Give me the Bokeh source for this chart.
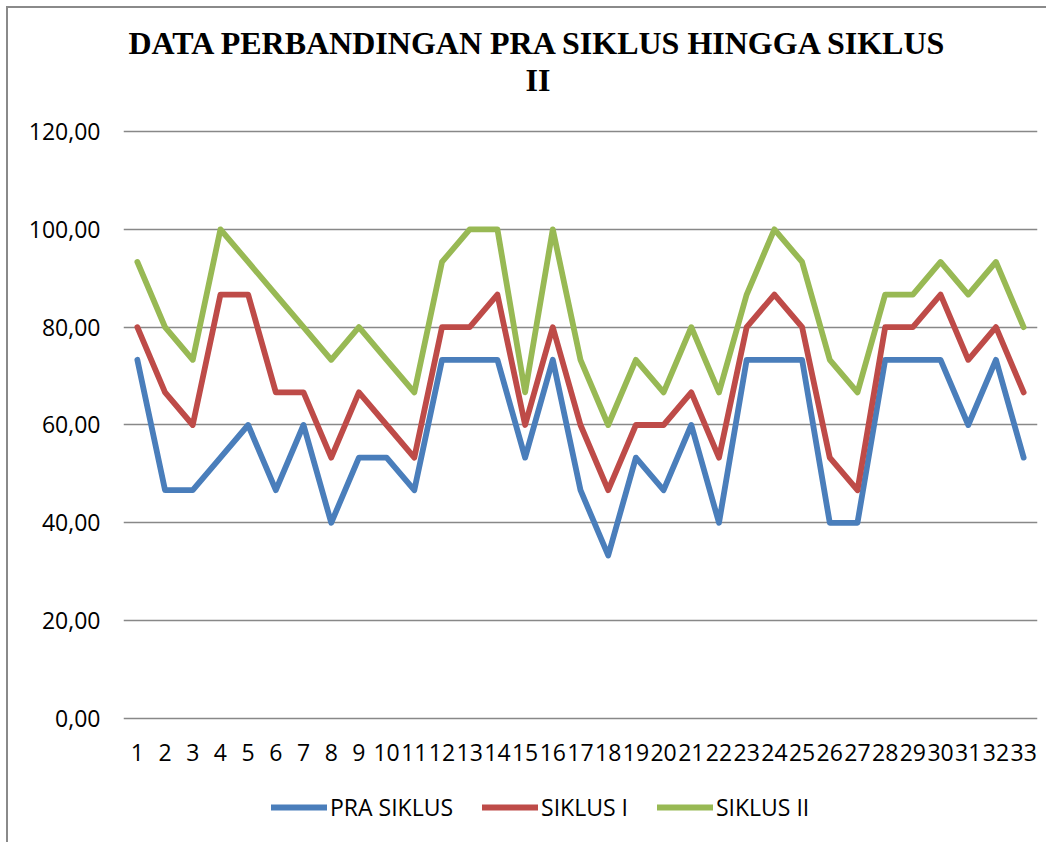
from bokeh.plotting import figure
from bokeh.models import Range1d, FixedTicker, Title, Legend, LegendItem, ColumnDataSource
from bokeh.core.properties import value
from bokeh.embed import file_html
from bokeh.resources import INLINE

categories = [str(i) for i in range(1, 34)]
pra_siklus = [73.33, 46.67, 46.67, 53.33, 60.00, 46.67, 60.00, 40.00, 53.33, 53.33, 46.67,
              73.33, 73.33, 73.33, 53.33, 73.33, 46.67, 33.33, 53.33, 46.67, 60.00, 40.00,
              73.33, 73.33, 73.33, 40.00, 40.00, 73.33, 73.33, 73.33, 60.00, 73.33, 53.33]
siklus_1 = [80.00, 66.67, 60.00, 86.67, 86.67, 66.67, 66.67, 53.33, 66.67, 60.00, 53.33,
            80.00, 80.00, 86.67, 60.00, 80.00, 60.00, 46.67, 60.00, 60.00, 66.67, 53.33,
            80.00, 86.67, 80.00, 53.33, 46.67, 80.00, 80.00, 86.67, 73.33, 80.00, 66.67]
siklus_2 = [93.33, 80.00, 73.33, 100.00, 93.33, 86.67, 80.00, 73.33, 80.00, 73.33, 66.67,
            93.33, 100.00, 100.00, 66.67, 100.00, 73.33, 60.00, 73.33, 66.67, 80.00, 66.67,
            86.67, 100.00, 93.33, 73.33, 66.67, 86.67, 86.67, 93.33, 86.67, 93.33, 80.00]
y_ticks = [0, 20, 40, 60, 80, 100, 120]
y_tick_labels = ["0,00", "20,00", "40,00", "60,00", "80,00", "100,00", "120,00"]
series_names = ["PRA SIKLUS", "SIKLUS I", "SIKLUS II"]
series_colors = ["#4A7EBB", "#BE4B48", "#98B954"]
title_lines = ["DATA PERBANDINGAN PRA SIKLUS HINGGA SIKLUS", "II"]

xs = list(range(1, len(categories) + 1))

# the frame reaches down to the canvas bottom so that the category labels and
# the legend can be drawn inside it (below the 0 gridline)
p = figure(width=1040, height=836, output_backend="svg", toolbar_location=None,
           x_range=Range1d(0.5, len(categories) + 0.5), y_range=Range1d(-25.76, 120.41),
           x_axis_location=None,
           min_border_left=115, min_border_right=11, min_border_top=121, min_border_bottom=0)
p.styles = {"border-left": "2px solid #8a8a8a", "border-top": "2px solid #8a8a8a",
            "margin-left": "6px", "margin-top": "6px"}
p.outline_line_color = None
p.background_fill_color = "white"
p.border_fill_color = "white"
p.title = None

# y axis
p.yaxis.ticker = FixedTicker(ticks=y_ticks)
p.yaxis.major_label_overrides = {t: l for t, l in zip(y_ticks, y_tick_labels)}
p.yaxis.axis_line_color = None
p.yaxis.major_tick_line_color = None
p.yaxis.minor_tick_line_color = None
p.yaxis.major_label_text_font = "Open Sans"
p.yaxis.major_label_text_font_size = "23px"
p.yaxis.major_label_text_color = "black"
p.yaxis.major_label_standoff = 17

p.xgrid.grid_line_color = None
p.ygrid.ticker = FixedTicker(ticks=y_ticks)
p.ygrid.grid_line_color = "#888888"
p.ygrid.grid_line_width = 1.7

# category (x) labels under the 0 line
cat_src = ColumnDataSource(dict(x=xs, y=[-6.95] * len(xs), t=categories))
p.text(x="x", y="y", text="t", source=cat_src, text_align="center", text_baseline="middle",
       text_font=value("Open Sans"), text_font_size="23px", text_color="black")

renderers = []
for vals, color in zip([pra_siklus, siklus_1, siklus_2], series_colors):
    r = p.line(xs, vals, line_color=color, line_width=5.8, line_join="round", line_cap="round")
    renderers.append(r)

legend = Legend(items=[LegendItem(label=n, renderers=[r]) for n, r in zip(series_names, renderers)],
                orientation="horizontal", location=(148, 21),
                glyph_width=56, glyph_height=22, label_standoff=3, spacing=29,
                padding=0, margin=0, border_line_color=None, background_fill_alpha=0,
                label_text_font="Open Sans", label_text_font_size="23px",
                label_text_color="black")
p.add_layout(legend, "center")

p.add_layout(Title(text=title_lines[1], align="left", offset=402, standoff=64,
                   text_font="Liberation Serif", text_font_style="bold",
                   text_font_size="32px", text_color="black"), "above")
p.add_layout(Title(text=title_lines[0], align="left", offset=5, standoff=-66,
                   text_font="Liberation Serif", text_font_style="bold",
                   text_font_size="32px", text_color="black"), "above")

open("out.html", "w").write(file_html(p, INLINE))
